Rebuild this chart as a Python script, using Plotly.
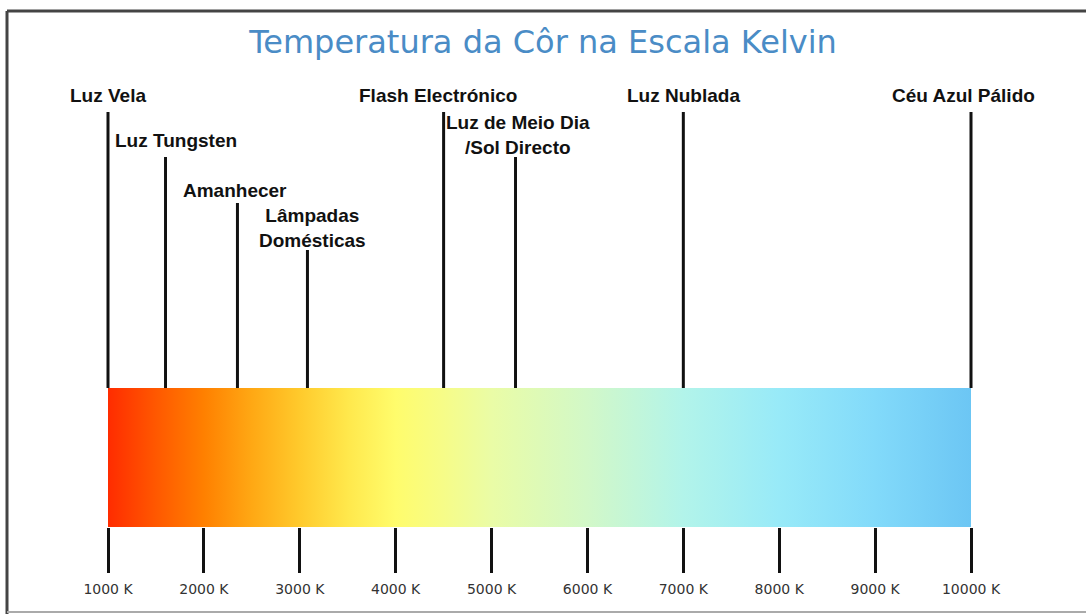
import plotly.graph_objects as go

# ---------------- data ----------------
tick_temps = [1000, 2000, 3000, 4000, 5000, 6000, 7000, 8000, 9000, 10000]
tick_labels = ["1000 K", "2000 K", "3000 K", "4000 K", "5000 K",
               "6000 K", "7000 K", "8000 K", "9000 K", "10000 K"]

source_names = ["Luz Vela", "Luz Tungsten", "Amanhecer", "Lâmpadas<br>Domésticas",
                "Flash Electrónico", "Luz de Meio Dia<br>/Sol Directo",
                "Luz Nublada", "Céu Azul Pálido"]
source_temps = [1000, 1600, 2350, 3080, 4500, 5250, 7000, 10000]

# gradient colour stops along the Kelvin scale
stop_temps = [1000, 1500, 2000, 2500, 3000, 3500, 4000, 4500, 5000,
              6000, 7000, 8000, 9000, 10000]
stop_colors = ["#ff2c00", "#ff5800", "#ff8000", "#ffa814", "#ffca2c", "#ffe84c",
               "#fffc6c", "#f6fc88", "#eafca6", "#d2f8c8", "#b2f4ea",
               "#98eaf8", "#82dafa", "#6cc6f4"]

# ---------------- layout constants (pixels) ----------------
W, H = 1086, 614
plot_bottom = 527            # bottom of the colour bar / x axis
bar_top = 388
px_per_k = 863 / 9000.0
x_left = 1000 - 108 / px_per_k
x_right = 10000 + (W - 971) / px_per_k

line_tops = [112, 157, 203, 250, 112, 157, 112, 112]
label_y = [95, 140, 190, 228, 95, 135, 95, 95]
label_shift = [0, 10, -2, 5, -6, 2, 0, -8]

fig = go.Figure()

# colour bar
kmin, kmax = min(stop_temps), max(stop_temps)
colorscale = [[(t - kmin) / (kmax - kmin), c] for t, c in zip(stop_temps, stop_colors)]
fig.add_trace(go.Scatter(
    x=[kmin, kmax, kmax, kmin, kmin],
    y=[bar_top, bar_top, plot_bottom, plot_bottom, bar_top],
    mode="lines", line=dict(width=0), fill="toself",
    fillgradient=dict(type="horizontal", colorscale=colorscale),
    hoverinfo="skip", showlegend=False,
))

# marker lines for each light source
for t, top in zip(source_temps, line_tops):
    fig.add_trace(go.Scatter(
        x=[t, t], y=[top, bar_top], mode="lines",
        line=dict(color="#111111", width=3),
        hoverinfo="skip", showlegend=False,
    ))

# labels
for name, t, y, s in zip(source_names, source_temps, label_y, label_shift):
    fig.add_annotation(
        x=t, y=y, xref="x", yref="y", text=f"<b>{name}</b>",
        showarrow=False, xanchor="center", yanchor="middle", xshift=s,
        align="center",
        font=dict(family="Liberation Sans, Arial, sans-serif", size=19, color="#111111"),
    )

# frame
frame_col = "#444444"
fig.add_shape(type="line", xref="paper", yref="paper",
              x0=7 / W, x1=1.0, y0=(plot_bottom - 11) / plot_bottom, y1=(plot_bottom - 11) / plot_bottom,
              line=dict(color=frame_col, width=3))
fig.add_shape(type="line", xref="paper", yref="paper",
              x0=7 / W, x1=7 / W, y0=(plot_bottom - 11) / plot_bottom, y1=(plot_bottom - 614) / plot_bottom,
              line=dict(color=frame_col, width=3))
fig.add_shape(type="line", xref="paper", yref="paper",
              x0=7 / W, x1=1.0, y0=(plot_bottom - 612) / plot_bottom, y1=(plot_bottom - 612) / plot_bottom,
              line=dict(color="#aaaaaa", width=2))

fig.update_layout(
    width=W, height=H,
    margin=dict(l=0, r=0, t=0, b=H - plot_bottom),
    paper_bgcolor="white", plot_bgcolor="white",
    title=dict(text="Temperatura da Côr na Escala Kelvin",
               x=0.5, xanchor="center", y=1 - 42 / H, yanchor="middle",
               font=dict(family="DejaVu Sans", size=32, color="#4a8cc6")),
    xaxis=dict(range=[x_left, x_right], tickvals=tick_temps, ticktext=tick_labels,
               ticks="outside", ticklen=45, tickwidth=3, tickcolor="#111111",
               ticklabelstandoff=4,
               showgrid=False, zeroline=False, showline=False, fixedrange=True,
               tickfont=dict(family="DejaVu Sans", size=14, color="#333333")),
    yaxis=dict(range=[plot_bottom, 0], visible=False, showgrid=False, zeroline=False,
               fixedrange=True),
    showlegend=False,
    hovermode=False,
)

fig.write_html(
    "out.html",
    config={"displayModeBar": False},
    post_script="document.body.style.margin='0';document.body.style.overflow='hidden';",
)
